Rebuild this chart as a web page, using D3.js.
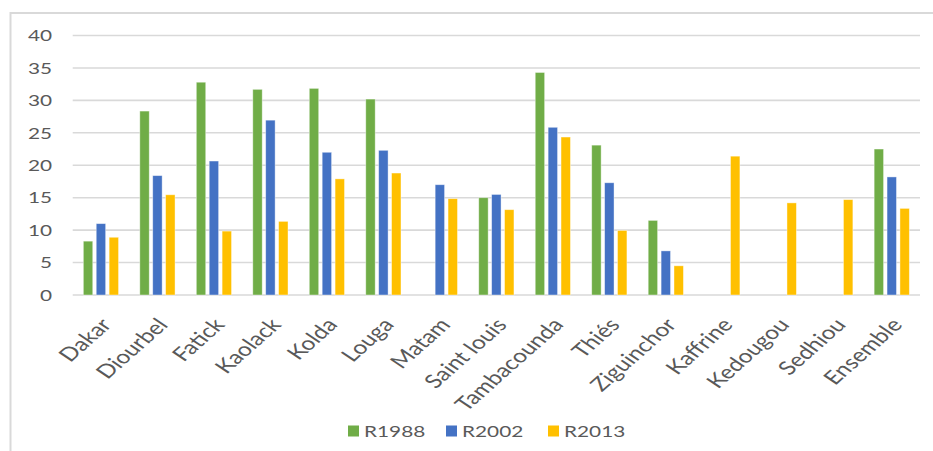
<!DOCTYPE html>
<html>
<head>
<meta charset="utf-8">
<script src="https://cdn.jsdelivr.net/npm/d3@7"></script>
<style>
  body { margin: 0; background: #fff; }
  text { font-family: Lato, "Open Sans", sans-serif; fill: #595959; }
</style>
</head>
<body>
<div id="chart"></div>
<script>
// regions and the three census rounds
var regions = ["Dakar", "Diourbel", "Fatick", "Kaolack", "Kolda", "Louga", "Matam", "Saint louis",
  "Tambacounda", "Thiés", "Ziguinchor", "Kaffrine", "Kedougou", "Sedhiou", "Ensemble"];
var series = ["R1988", "R2002", "R2013"];
var r1988 = [8.3, 28.35, 32.8, 31.7, 31.85, 30.2, null, 15.0, 34.3, 23.1, 11.5, null, null, null, 22.5];
var r2002 = [11.0, 18.4, 20.65, 26.95, 22.0, 22.3, 17.0, 15.5, 25.85, 17.3, 6.8, null, null, null, 18.2];
var r2013 = [8.9, 15.45, 9.85, 11.35, 17.9, 18.8, 14.85, 13.15, 24.35, 9.95, 4.5, 21.4, 14.2, 14.7, 13.35];
var yTicks = [0, 5, 10, 15, 20, 25, 30, 35, 40];
var colors = ["#70AD47", "#4472C4", "#FFC000"];

var width = 933, height = 451;
var margin = {top: 35.5, right: 13, bottom: 156, left: 72.7};
var sx = 1.3; // the picture is stretched sideways

var svg = d3.select("#chart").append("svg")
  .attr("width", width)
  .attr("height", height);

// frame of the chart area
svg.append("path")
  .attr("d", "M10.5," + height + "V13H" + width)
  .attr("fill", "none")
  .attr("stroke", "#D9D9D9")
  .attr("stroke-width", 2);

var x0 = d3.scaleBand().domain(regions).range([margin.left, width - margin.right]);
var groupW = 38.7;
var x1 = d3.scaleBand().domain(series).range([-groupW / 2, groupW / 2]).paddingInner(0.27).paddingOuter(0.135);
var y = d3.scaleLinear().domain([0, 40]).range([height - margin.bottom, margin.top]);

// gridlines
svg.append("g").selectAll("line")
  .data(yTicks)
  .enter().append("line")
  .attr("x1", margin.left)
  .attr("x2", width - margin.right)
  .attr("y1", function(d) { return y(d); })
  .attr("y2", function(d) { return y(d); })
  .attr("stroke", "#D9D9D9")
  .attr("stroke-width", 1.6);

// y labels
svg.append("g").selectAll("text")
  .data(yTicks)
  .enter().append("text")
  .attr("transform", function(d) { return "translate(52," + y(d) + ") scale(" + sx + ",1)"; })
  .attr("dy", "0.36em")
  .attr("text-anchor", "end")
  .style("font-size", "16px")
  .text(function(d) { return d; });

var table = regions.map(function(r, i) {
  return {region: r, values: [r1988[i], r2002[i], r2013[i]]};
});

var groups = svg.append("g").selectAll("g")
  .data(table)
  .enter().append("g")
  .attr("transform", function(d) { return "translate(" + (x0(d.region) + x0.bandwidth() / 2) + ",0)"; });

groups.selectAll("rect")
  .data(function(d) {
    return d.values.map(function(v, k) { return {s: series[k], v: v, k: k}; })
      .filter(function(e) { return e.v != null; });
  })
  .enter().append("rect")
  .attr("x", function(d) { return x1(d.s); })
  .attr("width", x1.bandwidth())
  .attr("y", function(d) { return y(d.v); })
  .attr("height", function(d) { return y(0) - y(d.v); })
  .attr("fill", function(d) { return colors[d.k]; })
  .attr("stroke", "#fff")
  .attr("stroke-opacity", 0.5)
  .attr("stroke-width", 0.8);

// x labels, rotated
svg.append("g").selectAll("text")
  .data(regions)
  .enter().append("text")
  .attr("transform", function(d) {
    return "translate(" + (x0(d) + x0.bandwidth() / 2 + 5) + "," + (height - margin.bottom + 26) + ") scale(" + sx + ",1) rotate(-49)";
  })
  .attr("dy", "0.36em")
  .attr("text-anchor", "end")
  .style("font-size", "19px")
  .text(function(d) { return d; });

// legend
var legendX = [348, 446, 548];
var legend = svg.append("g").selectAll("g")
  .data(series)
  .enter().append("g")
  .attr("transform", function(d, i) { return "translate(" + legendX[i] + ",431)"; });

legend.append("rect")
  .attr("x", 0)
  .attr("y", -5.5)
  .attr("width", 11)
  .attr("height", 11)
  .attr("fill", function(d, i) { return colors[i]; });

legend.append("text")
  .attr("transform", "translate(16,0) scale(" + sx + ",1)")
  .attr("dy", "0.36em")
  .style("font-size", "16px")
  .text(function(d) { return d; });
</script>
</body>
</html>
